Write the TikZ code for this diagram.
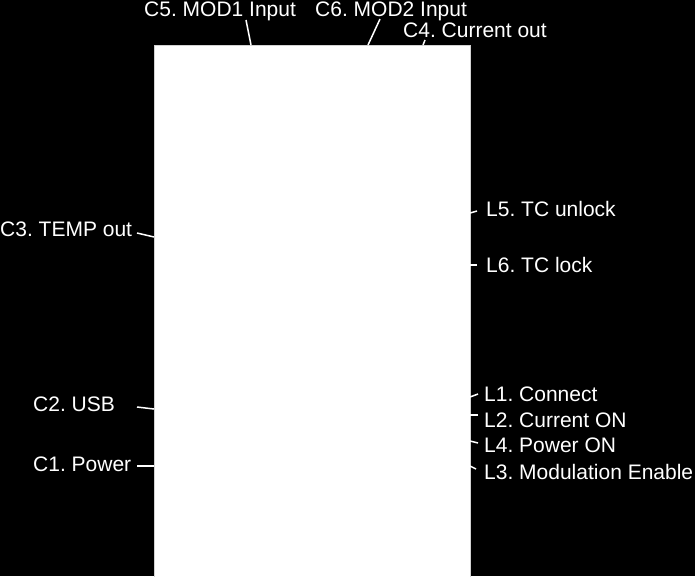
\documentclass[tikz,border=0pt]{standalone}
\usepackage{fontspec}
\setmainfont{Liberation Sans}
\frenchspacing
\tikzstyle{txt} = [text=white, inner sep=0pt, anchor=base west, font=\fontsize{21}{24}\selectfont]
\tikzstyle{lead} = [draw=white, line width=1.5pt]
\tikzstyle{board} = [fill=white, draw=gray!35, line width=0.7pt, rectangle, anchor=north west, inner sep=0pt]
\tikzstyle{pin} = [coordinate]

\begin{document}
\begin{tikzpicture}[x=1pt,y=-1pt]
	\useasboundingbox (0,0) rectangle (695,576);
	\fill[black] (0,0) rectangle (695,576);

	% put the board where we want it
	\node [board,minimum width=316pt,minimum height=532pt] (box) at (154,45) {};

	% connector labels
	\node [txt] (c5) at (144,16) {C5. MOD1 Input};
	\node [txt] (c6) at (315,16) {C6. MOD2 Input};
	\node [txt] (c4) at (403,37) {C4. Current out};
	\node [txt] (c3) at (0,236) {C3. TEMP out};
	\node [txt] (c2) at (33,411) {C2. USB};
	\node [txt] (c1) at (33,471) {C1. Power};

	% led labels
	\node [txt] (l5) at (486,216) {L5. TC unlock};
	\node [txt] (l6) at (486,272) {L6. TC lock};
	\node [txt] (l1) at (484,401) {L1. Connect};
	\node [txt] (l2) at (484,427) {L2. Current ON};
	\node [txt] (l4) at (484,452) {L4. Power ON};
	\node [txt] (l3) at (484,479) {L3. Modulation Enable};

	% free ends of the leaders
	\node [pin] (c5a) at (246,20) {};
	\node [pin] (c6a) at (380,19) {};
	\node [pin] (c4a) at (425,40) {};
	\node [pin] (c3a) at (137,233) {};
	\node [pin] (c2a) at (137,407) {};
	\node [pin] (c1a) at (137,466) {};
	\node [pin] (l5a) at (477,211) {};
	\node [pin] (l6a) at (477,265) {};
	\node [pin] (l1a) at (478,394) {};
	\node [pin] (l2a) at (478,415) {};
	\node [pin] (l4a) at (478,443) {};
	\node [pin] (l3a) at (476,469) {};

	% ends on the board
	\node [pin] (c5b) at (251,45) {};
	\node [pin] (c6b) at (368,45) {};
	\node [pin] (c4b) at (423,45) {};
	\node [pin] (c3b) at (154,237) {};
	\node [pin] (c2b) at (154,409) {};
	\node [pin] (c1b) at (154,466) {};
	\node [pin] (l5b) at (470,213) {};
	\node [pin] (l6b) at (470,265) {};
	\node [pin] (l1b) at (470,397) {};
	\node [pin] (l2b) at (470,415) {};
	\node [pin] (l4b) at (470,441) {};
	\node [pin] (l3b) at (470,466) {};

	% draw the leaders
	\foreach \n in {c5,c6,c4,c3,c2,c1,l5,l6,l1,l2,l4,l3}
		\draw [lead] (\n a) -- (\n b);

\end{tikzpicture}
\end{document}
